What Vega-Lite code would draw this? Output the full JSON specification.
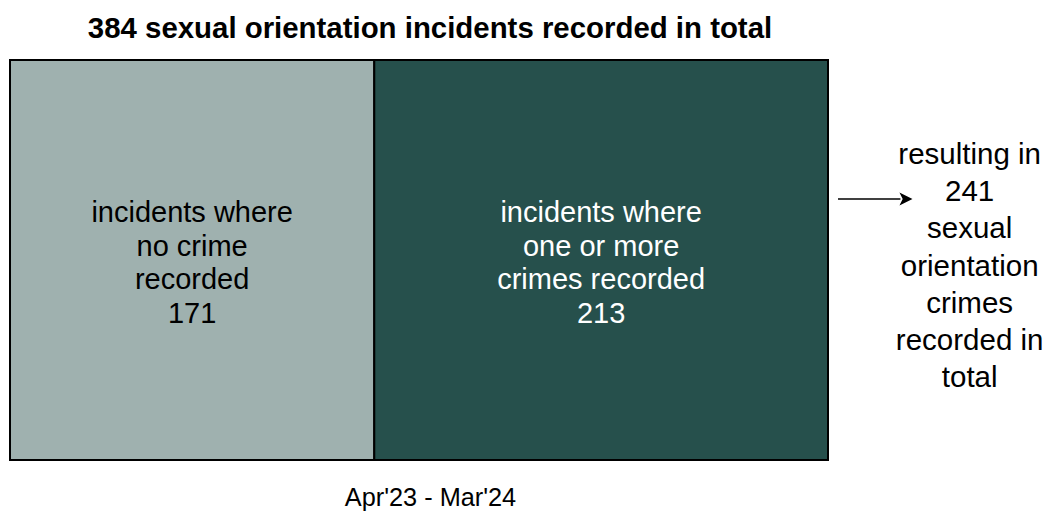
{
  "$schema": "https://vega.github.io/schema/vega-lite/v6.json",
  "width": 818,
  "height": 400,
  "autosize": {"type": "none"},
  "padding": {"left": 10, "top": 60, "right": 220, "bottom": 52},
  "background": "white",
  "config": {"view": {"stroke": null}, "font": "Liberation Sans"},
  "title": {
    "text": "384 sexual orientation incidents recorded in total",
    "fontSize": 29.4,
    "fontWeight": "bold",
    "font": "Liberation Sans",
    "color": "black",
    "anchor": "middle",
    "dx": 11,
    "offset": 15
  },
  "datasets": {
    "segments": [
      {"segment": "no crime", "start": 0, "end": 171, "label": "incidents where\nno crime\nrecorded\n171"},
      {"segment": "crime", "start": 171, "end": 384, "label": "incidents where\none or more\ncrimes recorded\n213"}
    ],
    "note": [
      {"text": "resulting in\n241\nsexual\norientation\ncrimes\nrecorded in\ntotal"}
    ]
  },
  "resolve": {"scale": {"color": "independent"}},
  "layer": [
    {
      "data": {"name": "segments"},
      "mark": {"type": "bar", "stroke": "black", "strokeWidth": 2},
      "encoding": {
        "x": {
          "field": "start",
          "type": "quantitative",
          "scale": {"domain": [0, 384], "nice": false, "zero": false},
          "axis": {
            "title": "Apr'23 - Mar'24",
            "labels": false,
            "ticks": false,
            "domain": false,
            "grid": false,
            "titleFontSize": 25.3,
            "titleFontWeight": "normal",
            "titleColor": "black",
            "titleFont": "Liberation Sans",
            "titlePadding": 25,
            "titleX": 420
          }
        },
        "x2": {"field": "end"},
        "y": {"datum": 0, "type": "quantitative", "scale": {"domain": [0, 1], "nice": false}, "axis": null},
        "y2": {"datum": 1},
        "color": {
          "field": "segment",
          "type": "nominal",
          "scale": {"domain": ["no crime", "crime"], "range": ["#9FB1AF", "#26504C"]},
          "legend": null
        }
      }
    },
    {
      "data": {"name": "segments"},
      "transform": [{"calculate": "(datum.start + datum.end) / 2", "as": "mid"}],
      "mark": {"type": "text", "fontSize": 29, "lineHeight": 33.5, "lineBreak": "\n", "align": "center", "baseline": "middle", "font": "Liberation Sans"},
      "encoding": {
        "x": {"field": "mid", "type": "quantitative"},
        "y": {"datum": 0.6175, "type": "quantitative"},
        "text": {"field": "label", "type": "nominal"},
        "color": {
          "field": "segment",
          "type": "nominal",
          "scale": {"domain": ["no crime", "crime"], "range": ["black", "white"]},
          "legend": null
        }
      }
    },
    {
      "data": {"name": "note"},
      "mark": {"type": "text", "fontSize": 29.5, "lineHeight": 37.2, "lineBreak": "\n", "align": "center", "baseline": "middle", "font": "Liberation Sans", "color": "black", "clip": false},
      "encoding": {
        "x": {"datum": 450.5, "type": "quantitative"},
        "y": {"datum": 0.7625, "type": "quantitative"},
        "text": {"field": "text", "type": "nominal"}
      }
    },
    {
      "data": {"name": "note"},
      "mark": {"type": "rule", "color": "black", "strokeWidth": 1.5, "clip": false},
      "encoding": {
        "x": {"datum": 388.7, "type": "quantitative"},
        "x2": {"datum": 418},
        "y": {"datum": 0.6525, "type": "quantitative"}
      }
    },
    {
      "data": {"name": "note"},
      "mark": {"type": "point", "shape": "M-1,-1L1,0L-1,1L-0.5,0Z", "filled": true, "color": "black", "opacity": 1, "size": 170, "clip": false},
      "encoding": {
        "x": {"datum": 420.6, "type": "quantitative"},
        "y": {"datum": 0.6525, "type": "quantitative"}
      }
    }
  ]
}
